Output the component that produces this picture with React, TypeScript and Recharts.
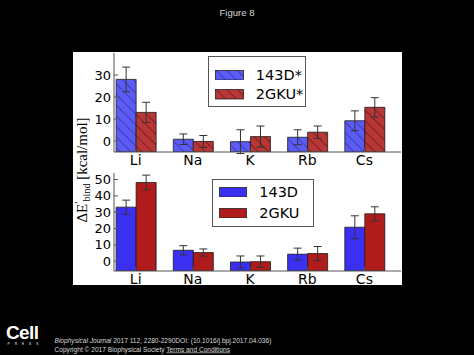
import React from 'react';
import { BarChart, Bar, XAxis, YAxis, ErrorBar, Legend } from 'recharts';

// ---------- data ----------
const categories = ['Li', 'Na', 'K', 'Rb', 'Cs'];

// top panel (hatched, starred structures)
const top143D = [28.0, 0.8, -0.3, 1.7, 9.2];
const top143DErr = [5.6, 2.4, 5.4, 3.4, 4.5];
const top2GKU = [13.0, -0.2, 2.0, 4.0, 15.3];
const top2GKUErr = [4.6, 2.7, 4.8, 2.8, 4.4];

// bottom panel
const bot143D = [33.1, 6.7, -0.5, 4.3, 20.8];
const bot143DErr = [4.3, 2.8, 3.7, 3.7, 7.0];
const bot2GKU = [48.2, 5.3, -0.3, 4.7, 29.0];
const bot2GKUErr = [4.5, 2.2, 3.5, 4.3, 4.3];

const topTicks = [0, 10, 20, 30];
const botTicks = [0, 10, 20, 30, 40, 50];
const topDomain: [number, number] = [-5, 40];
const botDomain: [number, number] = [-6, 54];
const xDomain: [number, number] = [-0.38, 4.64];
const xTicks = categories.map((_, i) => i);

const topNames = ['143D*', '2GKU*'];
const botNames = ['143D', '2GKU'];

const buildData = (a: number[], ae: number[], b: number[], be: number[], base: number) =>
  categories.map((name, i) => ({
    x: i,
    name,
    a: [base, a[i]],
    aErr: ae[i],
    b: [base, b[i]],
    bErr: be[i],
  }));

const topData = buildData(top143D, top143DErr, top2GKU, top2GKUErr, topDomain[0]);
const botData = buildData(bot143D, bot143DErr, bot2GKU, bot2GKUErr, botDomain[0]);

const FRAME = '#555';
const TICK_FONT = { fontFamily: 'DejaVu Sans, sans-serif', fill: '#000' };

const LegendBox = (props: any) => {
  const { payload, w, h, patchL, patchT, patchGap, patchW, patchH, textL } = props;
  return (
    <div
      style={{
        width: w,
        height: h,
        boxSizing: 'border-box',
        border: '1px solid #555',
        background: '#fff',
        position: 'relative',
      }}
    >
      {(payload || []).map((p: any, i: number) => (
        <React.Fragment key={i}>
          <svg
            width={patchW}
            height={patchH}
            style={{ position: 'absolute', left: patchL, top: patchT + i * patchGap }}
          >
            <rect
              x={0.5}
              y={0.5}
              width={patchW - 1}
              height={patchH - 1}
              fill={p.color}
              stroke="#222"
              strokeWidth={0.8}
            />
          </svg>
          <div
            style={{
              position: 'absolute',
              left: textL,
              top: patchT + i * patchGap + patchH / 2 - 9,
              height: 18,
              lineHeight: '18px',
              fontFamily: 'DejaVu Sans, sans-serif',
              fontSize: 14.5,
              color: '#000',
              whiteSpace: 'nowrap',
            }}
          >
            {p.value}
          </div>
        </React.Fragment>
      ))}
    </div>
  );
};

type PanelProps = {
  data: any[];
  width: number;
  height: number;
  marginTop: number;
  xAxisHeight: number;
  domain: [number, number];
  ticks: number[];
  names: string[];
  fillA: string;
  fillB: string;
  legend: any;
  defs?: React.ReactNode;
};

const Panel = (p: PanelProps) => (
  <BarChart
    width={p.width}
    height={p.height}
    data={p.data}
    margin={{ top: p.marginTop, right: 1, left: 0, bottom: 0 }}
    barGap={0}
    barCategoryGap={0}
  >
    {p.defs}
    <XAxis
      xAxisId="b"
      dataKey="x"
      type="number"
      domain={xDomain}
      allowDataOverflow
      ticks={xTicks}
      interval={0}
      tickFormatter={(v: number) => categories[v] ?? ''}
      height={p.xAxisHeight}
      stroke={FRAME}
      tickSize={-4}
      tickMargin={7}
      tick={{ ...TICK_FONT, fontSize: 14 }}
    />
    <XAxis
      xAxisId="t"
      dataKey="x"
      type="number"
      orientation="top"
      domain={xDomain}
      allowDataOverflow
      ticks={xTicks}
      interval={0}
      height={0}
      stroke={FRAME}
      tickSize={-4}
      tick={false}
    />
    <YAxis
      yAxisId="l"
      type="number"
      domain={p.domain}
      allowDataOverflow
      ticks={p.ticks}
      interval={0}
      width={41}
      stroke={FRAME}
      tickSize={-4}
      tickMargin={7}
      tick={{ ...TICK_FONT, fontSize: 13 }}
    />
    <YAxis
      yAxisId="r"
      orientation="right"
      type="number"
      domain={p.domain}
      allowDataOverflow
      ticks={p.ticks}
      interval={0}
      width={0}
      stroke={FRAME}
      tickSize={-4}
      tick={false}
    />
    <Legend
      layout="vertical"
      align="center"
      verticalAlign="middle"
      wrapperStyle={p.legend.wrapper}
      content={(lp: any) => <LegendBox {...lp} {...p.legend.box} />}
    />
    <Bar
      xAxisId="b"
      yAxisId="l"
      dataKey="a"
      name={p.names[0]}
      fill={p.fillA}
      stroke="#1a1a1a"
      strokeWidth={0.8}
      barSize={20}
      isAnimationActive={false}
    >
      <ErrorBar dataKey="aErr" direction="y" width={4} stroke="#333" strokeWidth={1} />
    </Bar>
    <Bar
      xAxisId="b"
      yAxisId="l"
      dataKey="b"
      name={p.names[1]}
      fill={p.fillB}
      stroke="#1a1a1a"
      strokeWidth={0.8}
      barSize={20}
      isAnimationActive={false}
    >
      <ErrorBar dataKey="bErr" direction="y" width={4} stroke="#333" strokeWidth={1} />
    </Bar>
  </BarChart>
);

const hatchDefs = (
  <defs>
    <pattern id="hatchBlue" width="7.5" height="7.5" patternUnits="userSpaceOnUse" patternTransform="rotate(-45)">
      <rect width="7.5" height="7.5" fill="#5b5bf5" />
      <line x1="0" y1="0" x2="0" y2="7.5" stroke="#26267a" strokeWidth="1.1" />
    </pattern>
    <pattern id="hatchRed" width="7.5" height="7.5" patternUnits="userSpaceOnUse" patternTransform="rotate(-45)">
      <rect width="7.5" height="7.5" fill="#b83636" />
      <line x1="0" y1="0" x2="0" y2="7.5" stroke="#4a0e0e" strokeWidth="1.1" />
    </pattern>
  </defs>
);

export default function App() {
  return (
    <div
      style={{
        position: 'absolute',
        left: 0,
        top: 0,
        width: 474,
        height: 355,
        background: '#000',
        overflow: 'hidden',
      }}
    >
      <svg width={474} height={355} style={{ position: 'absolute', left: 0, top: 0 }}>
        <text
          x={237}
          y={15.5}
          textAnchor="middle"
          fontFamily="Liberation Sans, Arial, sans-serif"
          fontSize={9.5}
          fill="#d8d8d8"
        >
          Figure 8
        </text>
        <rect x={73} y={52} width={329} height={233} fill="#fff" />
        <text
          x={6}
          y={339}
          fontFamily="Liberation Sans, Arial, sans-serif"
          fontWeight="bold"
          fontSize={19}
          fill="#fff"
          letterSpacing={-0.6}
        >
          Cell
        </text>
        <text
          x={7.5}
          y={344.5}
          fontFamily="Liberation Sans, Arial, sans-serif"
          fontSize={3.2}
          fill="#fff"
          letterSpacing={5}
        >
          PRESS
        </text>
        <text
          x={54.5}
          y={342.5}
          fontFamily="Liberation Sans, Arial, sans-serif"
          fontSize={6.6}
          fill="#d8d8d8"
        >
          <tspan fontStyle="italic">Biophysical Journal</tspan>
          <tspan> 2017 112, 2280-2290DOI: (10.1016/j.bpj.2017.04.036)</tspan>
        </text>
        <text
          x={54.5}
          y={351.5}
          fontFamily="Liberation Sans, Arial, sans-serif"
          fontSize={6.6}
          fill="#d8d8d8"
        >
          <tspan>Copyright © 2017 Biophysical Society </tspan>
          <tspan textDecoration="underline">Terms and Conditions</tspan>
        </text>
      </svg>

      <div style={{ position: 'absolute', left: 73, top: 52 }}>
        <Panel
          data={topData}
          width={329}
          height={118}
          marginTop={1}
          xAxisHeight={18}
          domain={topDomain}
          ticks={topTicks}
          names={topNames}
          fillA="url(#hatchBlue)"
          fillB="url(#hatchRed)"
          defs={hatchDefs}
          legend={{
            wrapper: { left: 135.3, top: 4, width: 98, height: 51 },
            box: { w: 98, h: 51, patchL: 5.5, patchT: 12.5, patchGap: 19.5, patchW: 29, patchH: 10.5, textL: 46.5 },
          }}
        />
      </div>

      <div style={{ position: 'absolute', left: 73, top: 170 }}>
        <Panel
          data={botData}
          width={329}
          height={121}
          marginTop={3}
          xAxisHeight={20}
          domain={botDomain}
          ticks={botTicks}
          names={botNames}
          fillA="#3b30f2"
          fillB="#b01c1c"
          legend={{
            wrapper: { left: 138.7, top: 9, width: 102, height: 48 },
            box: { w: 102, h: 48, patchL: 6, patchT: 6.5, patchGap: 21, patchW: 28, patchH: 10.5, textL: 46.5 },
          }}
        />
      </div>

      <svg width={40} height={233} style={{ position: 'absolute', left: 73, top: 52 }}>
        <text
          transform="translate(14.3, 118) rotate(-90)"
          textAnchor="middle"
          fontFamily="Liberation Serif, DejaVu Serif, serif"
          fontSize={15}
          fill="#000"
        >
          <tspan>ΔE</tspan>
          <tspan dy={-5} fontSize={11}>′</tspan>
          <tspan dy={8} fontSize={10}>bind</tspan>
          <tspan dy={-3}> [kcal/mol]</tspan>
        </text>
      </svg>
    </div>
  );
}
